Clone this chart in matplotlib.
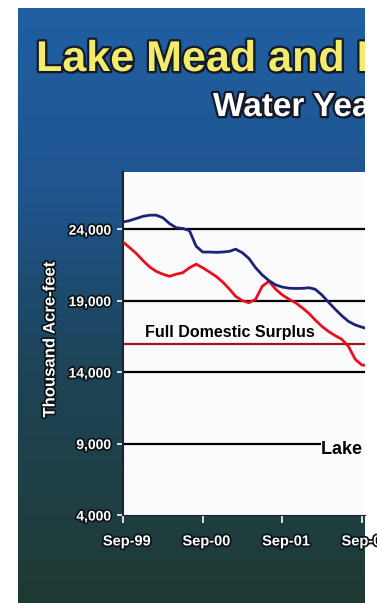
import numpy as np
import pandas as pd
import matplotlib
matplotlib.use("Agg")
import matplotlib.pyplot as plt
import matplotlib.patheffects as pe
import matplotlib.transforms as mtransforms
from matplotlib.colors import LinearSegmentedColormap

# ---- data (end-of-month storage, thousand acre-feet) ----
start_month = "1999-09-30"
combined_storage = [24500, 24600, 24750, 24900, 24980, 24980, 24800, 24400,
                    24100, 24050, 23900, 22800, 22400, 22400, 22380, 22400,
                    22450, 22600, 22350, 21950, 21300, 20800, 20400, 20100,
                    19950, 19870, 19850, 19860, 19900, 19800, 19400, 18900,
                    18400, 17950, 17550, 17300, 17150, 17000]
projected_storage = [23100, 22700, 22300, 21800, 21350, 21050, 20850, 20700,
                     20850, 20950, 21300, 21550, 21300, 21000, 20700, 20300,
                     19800, 19300, 19000, 18850, 19100, 20000, 20350, 19800,
                     19400, 19100, 18850, 18500, 18100, 17650, 17200, 16850,
                     16550, 16300, 15800, 14900, 14500, 14450]
surplus_level = 16000
surplus_label = "Full Domestic Surplus"
power_pool_level = 9000
power_pool_label = "Lake Mead Minimum Power Pool"
y_ticks = [4000, 9000, 14000, 19000, 24000]
x_tick_labels = ["Sep-99", "Sep-00", "Sep-01", "Sep-02"]
title = "Lake Mead and Lake Powell"
subtitle = "Water Year 2002"
y_label = "Thousand Acre-feet"

dates = pd.date_range(start_month, periods=len(combined_storage), freq="ME")
tick_dates = pd.to_datetime(["1999-09-30", "2000-09-30", "2001-09-30", "2002-09-30"])

W, H = 377, 603
fig = plt.figure(figsize=(W / 100, H / 100), dpi=100, facecolor="white")

def fx(px):
    return px / W

def fy(py):
    return 1 - py / H

# ---- slide background with vertical gradient ----
sl, sr, st, sb = 18, 365, 8, 603
bg = fig.add_axes([fx(sl), fy(sb), fx(sr - sl), (sb - st) / H])
bg.set_axis_off()
cmap = LinearSegmentedColormap.from_list(
    "slide", [(0.0, "#215fa2"), (0.3, "#1f5590"), (0.6, "#1d4558"), (1.0, "#1f3a33")])
grad = np.linspace(0, 1, 256).reshape(-1, 1)
bg.imshow(grad, cmap=cmap, aspect="auto", extent=[0, 1, 0, 1], origin="upper")
bg.set_xlim(0, 1)
bg.set_ylim(0, 1)

def bx(px):
    return (px - sl) / (sr - sl)

def by(py):
    return (sb - py) / (sb - st)

heading_fx = [pe.withSimplePatchShadow(offset=(1.5, -1.5), shadow_rgbFace="#0a0f1c", alpha=0.9),
              pe.withStroke(linewidth=3.2, foreground="#151a2a")]
bg.text(bx(36), by(71), title, fontsize=31, fontweight="bold",
        family="Liberation Sans", color="#f3ec6a", ha="left", va="baseline",
        path_effects=heading_fx, clip_on=True)
bg.text(bx(213), by(116), subtitle, fontsize=24, fontweight="bold",
        family="Liberation Sans", color="white", ha="left", va="baseline",
        path_effects=heading_fx, clip_on=True)

# ---- chart ----
ax = fig.add_axes([fx(123), fy(515), fx(365 - 123), (515 - 172) / H])
ax.set_facecolor("#fbfbfe")
ax.set_ylim(4000, 28000)
ax.set_xlim(pd.Timestamp("1999-09-30"), pd.Timestamp("2002-10-15"))

for lvl in y_ticks[1:]:
    ax.axhline(lvl, color="black", lw=1.6, zorder=2)
ax.axhline(surplus_level, color="#9a1a1a", lw=1.6, zorder=2)

ax.plot(dates, combined_storage, color="#1c2478", lw=2.0, zorder=4)
ax.plot(dates, projected_storage, color="#e8101c", lw=2.0, zorder=3)

ax.text(pd.Timestamp("2000-01-08"), surplus_level + 480, surplus_label,
        fontsize=11.5, fontweight="bold", family="Liberation Sans",
        color="black", ha="left", va="baseline", zorder=5)
ax.text(pd.Timestamp("2002-03-28"), power_pool_level - 720, power_pool_label,
        fontsize=13, fontweight="bold", family="Liberation Sans", color="black",
        ha="left", va="baseline", zorder=5, clip_on=True,
        bbox=dict(facecolor="#fbfbfe", edgecolor="none", pad=0.3))

ax.set_yticks(y_ticks)
ax.set_yticklabels([f"{v:,}" for v in y_ticks])
ax.set_xticks(tick_dates)
ax.set_xticklabels(x_tick_labels)

for spine in ["top", "right"]:
    ax.spines[spine].set_visible(False)
ax.spines["left"].set_color("#1a2530")
ax.spines["left"].set_linewidth(1.5)
ax.spines["bottom"].set_color("#1a2530")
ax.tick_params(axis="y", direction="out", length=4.5, width=1.3, color="#e8ecef", pad=4)
ax.tick_params(axis="x", direction="out", length=6, width=1.3, color="#e8ecef", pad=8)

label_fx = [pe.withStroke(linewidth=2.5, foreground="#0c1418")]
for lab in ax.get_yticklabels():
    lab.set_fontsize(10)
for lab in ax.get_xticklabels():
    lab.set_fontsize(10.5)
    lab.set_transform(lab.get_transform() + mtransforms.ScaledTranslation(0.04, 0, fig.dpi_scale_trans))
for lab in ax.get_yticklabels() + ax.get_xticklabels():
    lab.set_fontweight("bold")
    lab.set_family("Liberation Sans")
    lab.set_color("white")
    lab.set_path_effects(label_fx)

fig.text(fx(50), fy(340), y_label, rotation=90, fontsize=12, fontweight="bold",
         family="Liberation Sans", color="white", ha="center", va="center",
         path_effects=label_fx)

fig.savefig("out.png", dpi=100, facecolor="white")
